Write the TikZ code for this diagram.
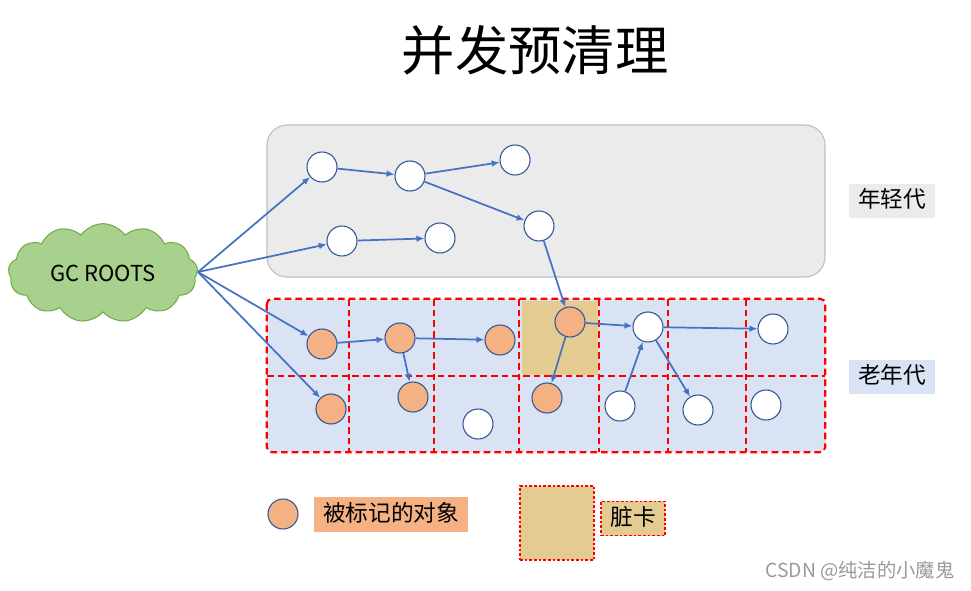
\documentclass[tikz,border=0pt]{standalone}
\usepackage{fontspec}
\newfontfamily\cjk{Noto Sans CJK SC}
\usetikzlibrary{arrows.meta,shapes.symbols}
\definecolor{arrowblue}{HTML}{4472C4}
\definecolor{nodeedge}{HTML}{2F5597}
\definecolor{marked}{HTML}{F4B183}
\definecolor{younggray}{HTML}{EBEBEB}
\definecolor{youngedge}{HTML}{BFBFBF}
\definecolor{oldblue}{HTML}{DAE3F3}
\definecolor{cardtan}{HTML}{E3CB92}
\definecolor{cloudfill}{HTML}{A9D18E}
\definecolor{cloudedge}{HTML}{70AD47}
\definecolor{wm}{HTML}{9A9A9A}
\tikzset{
  obj/.style={circle,draw=nodeedge,line width=0.8pt,fill=white,minimum size=22.5pt,inner sep=0pt},
  markedobj/.style={obj,fill=marked},
  ref/.style={draw=arrowblue,line width=1.3pt,-{Latex[length=6pt,width=5pt]}},
  cell/.style={draw=red,line width=1.6pt,dash pattern=on 5pt off 3pt},
  tag/.style={font=\cjk\fontsize{17}{17}\selectfont,inner sep=0pt,minimum height=26pt,text height=13pt,text depth=3pt}
}
\begin{document}
\begin{tikzpicture}[x=0.75pt,y=-0.75pt]
\useasboundingbox (0,0) rectangle (971,590);
% title
\node[font=\cjk\fontsize{40}{40}\selectfont] (title) at (535,50) {并发预清理};
% young generation
\node[draw=youngedge,fill=younggray,line width=0.8pt,rounded corners=15pt,minimum width=418.5pt,minimum height=114pt] (young) at (546,201) {};
% old generation background
\node[fill=oldblue,rounded corners=4pt,minimum width=418.5pt,minimum height=114.75pt,inner sep=0pt] (old) at (546,375.5) {};
% dirty card
\node[fill=cardtan,minimum width=57pt,minimum height=55.5pt,inner sep=0pt] (card) at (559.5,338) {};
% grid
\draw[cell,rounded corners=4pt] (old.north west) rectangle (old.south east);
\foreach \xa in {349,434,519,599,668,746}{
  \draw[cell] (\xa,299) -- (\xa,452);
}
\draw[cell] (267,376) -- (825,376);
% labels
\node[tag,fill=younggray,minimum width=64pt] (lyoung) at (892,201) {年轻代};
\node[tag,fill=oldblue,minimum width=64pt] (lold) at (892,377) {老年代};
% cloud
\node[cloud,cloud puffs=13,cloud puff arc=110,aspect=2.2,draw=cloudedge,fill=cloudfill,line width=0.8pt,minimum width=142pt,minimum height=74pt,inner sep=0pt,font=\cjk\fontsize{16.5}{16.5}\selectfont] (gc) at (103,273) {GC ROOTS};
\coordinate (gcout) at (198,272);
% young objects
\node[obj] (y1) at (322,167) {};
\node[obj] (y2) at (410,176) {};
\node[obj] (y3) at (515,160) {};
\node[obj] (y4) at (539,226) {};
\node[obj] (y5) at (342,241) {};
\node[obj] (y6) at (440,238) {};
% old objects row 1
\node[markedobj] (o1) at (322,344) {};
\node[markedobj] (o2) at (400,338) {};
\node[markedobj] (o3) at (500,340) {};
\node[markedobj] (o4) at (570,322) {};
\node[obj] (o5) at (648,327) {};
\node[obj] (o6) at (773,329) {};
% old objects row 2
\node[markedobj] (p1) at (331,409) {};
\node[markedobj] (p2) at (413,397) {};
\node[obj] (p3) at (478,424) {};
\node[markedobj] (p4) at (547,398) {};
\node[obj] (p5) at (620,406) {};
\node[obj] (p6) at (698,410) {};
\node[obj] (p7) at (766,405) {};
% references
\draw[ref] (gcout) -- (y1);
\draw[ref] (gcout) -- (y5);
\draw[ref] (gcout) -- (o1);
\draw[ref] (gcout) -- (p1);
\draw[ref] (y1) -- (y2);
\draw[ref] (y2) -- (y3);
\draw[ref] (y2) -- (y4);
\draw[ref] (y5) -- (y6);
\draw[ref] (y4) -- (o4);
\draw[ref] (o1) -- (o2);
\draw[ref] (o2) -- (o3);
\draw[ref] (o2) -- (p2);
\draw[ref] (o4) -- (p4);
\draw[ref] (o4) -- (o5);
\draw[ref] (p5) -- (o5);
\draw[ref] (o5) -- (o6);
\draw[ref] (o5) -- (p6);
% legend
\node[markedobj] (legobj) at (283,514) {};
\node[tag,fill=marked,minimum width=115.5pt] (legobjtext) at (391,514.5) {被标记的对象};
\node[fill=cardtan,draw=red,line width=0.8pt,dash pattern=on 2pt off 1.5pt,minimum width=55.5pt,minimum height=55.5pt,inner sep=0pt] (legcard) at (557,523) {};
\node[tag,fill=cardtan,draw=red,line width=0.8pt,dash pattern=on 2pt off 1.5pt,minimum width=48pt] (legcardtext) at (633,518.5) {脏卡};
% watermark
\node[font=\cjk\fontsize{14.5}{14.5}\selectfont,text=wm] (wmark) at (860,571) {CSDN @纯洁的小魔鬼};
\end{tikzpicture}
\end{document}
